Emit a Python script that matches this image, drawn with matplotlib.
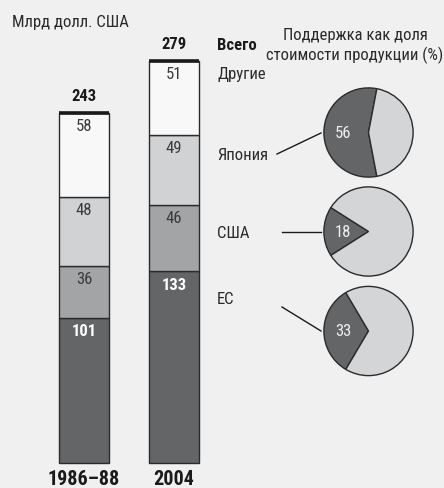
import matplotlib
matplotlib.use("Agg")
import numpy as np
import matplotlib.pyplot as plt

plt.rcParams['font.family'] = ['Roboto Condensed', 'Liberation Sans', 'DejaVu Sans']

# ---------- Data ----------
periods = ["1986–88", "2004"]
eu      = [101, 133]
usa     = [36, 46]
japan   = [48, 49]
other   = [58, 51]
totals  = [243, 279]

pie_names  = ["Япония", "США", "ЕС"]
pie_shares = [56, 18, 33]

title      = "Млрд долл. США"
pie_title  = "Поддержка как доля\nстоимости продукции (%)"

# ---------- Style ----------
W, H = 444, 489
BG = "#f0f0f0"
C_DARK, C_MID, C_LIGHT, C_TOP = "#646567", "#a2a4a6", "#d1d2d4", "#f8f8f8"
C_PIE_LIGHT = "#d4d5d7"
EDGE = "#2b2b2b"
FS = 12

fig = plt.figure(figsize=(W / 100, H / 100), dpi=100, facecolor=BG)

def fx(px): return px / W
def fy(py): return 1 - py / H

# bar axes: x in pixels, y in billions (1.44 px per unit, zero at y=464px)
scale = 1.44
ax = fig.add_axes([0, 0, 1, 1], facecolor="none")
ax.set_xlim(0, W)
ax.set_ylim(-(H - 464) / scale, 464 / scale)
ax.axis("off")

xs = [84, 174]
bw = 50
segs = [(eu, C_DARK), (usa, C_MID), (japan, C_LIGHT), (other, C_TOP)]
bottom = np.zeros(2)
for vals, col in segs:
    ax.bar(xs, vals, bw, bottom=bottom, color=col, edgecolor=EDGE, linewidth=1.0, zorder=2)
    for i, v in enumerate(vals):
        top = bottom[i] + v
        if col == C_DARK:
            ax.text(xs[i], top - 3.5, str(v), ha="center", va="top", fontsize=FS,
                    color="white", fontweight="bold", zorder=3)
        else:
            ax.text(xs[i], top - 3.5, str(v), ha="center", va="top", fontsize=FS,
                    color="#3a3a3a", zorder=3)
    bottom += np.array(vals)

for i, t in enumerate(totals):
    ax.plot([xs[i] - bw / 2, xs[i] + bw / 2], [t, t], color="#1a1a1a", lw=2.6,
            solid_capstyle="butt", zorder=4)
    ax.text(xs[i], t + 7, str(t), ha="center", va="bottom", fontsize=FS,
            fontweight="bold", color="#1a1a1a")
    ax.text(xs[i], -4.0, periods[i], ha="center", va="top", fontsize=14.5,
            fontweight="bold", color="#1a1a1a")

# texts
fig.text(fx(12), fy(22), title, ha="left", va="center", fontsize=FS, color="#2a2a2a")
fig.text(fx(217), fy(46), "Всего", ha="left", va="center", fontsize=FS,
         fontweight="bold", color="#1a1a1a")
fig.text(fx(217), fy(75), "Другие", ha="left", va="center", fontsize=FS, color="#2a2a2a")
fig.text(fx(355), fy(46), pie_title, ha="center", va="center", fontsize=FS,
         color="#2a2a2a", linespacing=1.3)

# pies
pie_cy = [133.5, 232.5, 332]
pie_cx, pie_r = 368.5, 44.5
label_y = [156, 233, 300]
line_start = [(277, 155), (282, 233), (282, 308)]
line_end = [(321, 134), (321, 233), (321, 332)]

for k, (name, share) in enumerate(zip(pie_names, pie_shares)):
    pax = fig.add_axes([fx(pie_cx - pie_r - 1), fy(pie_cy[k] + pie_r + 1),
                        (2 * pie_r + 2) / W, (2 * pie_r + 2) / H])
    pax.set_facecolor("none")
    pax.pie([share, 100 - share], colors=[C_DARK, C_PIE_LIGHT],
            startangle=180 - 1.8 * share, counterclock=True,
            wedgeprops=dict(edgecolor=EDGE, linewidth=1.0))
    pax.set_xlim(-1.02, 1.02)
    pax.set_ylim(-1.02, 1.02)
    pax.set_aspect("equal")
    pax.text(-0.57, 0, str(share), ha="center", va="center", fontsize=FS,
             color="#f0f0f0")
    fig.text(fx(217), fy(label_y[k]), name, ha="left", va="center", fontsize=FS,
             color="#2a2a2a")
    (x0, y0), (x1, y1) = line_start[k], line_end[k]
    fig.add_artist(plt.Line2D([fx(x0), fx(x1)], [fy(y0), fy(y1)], color="#1a1a1a", lw=1.0))

fig.savefig("out.png", dpi=100, facecolor=BG)
